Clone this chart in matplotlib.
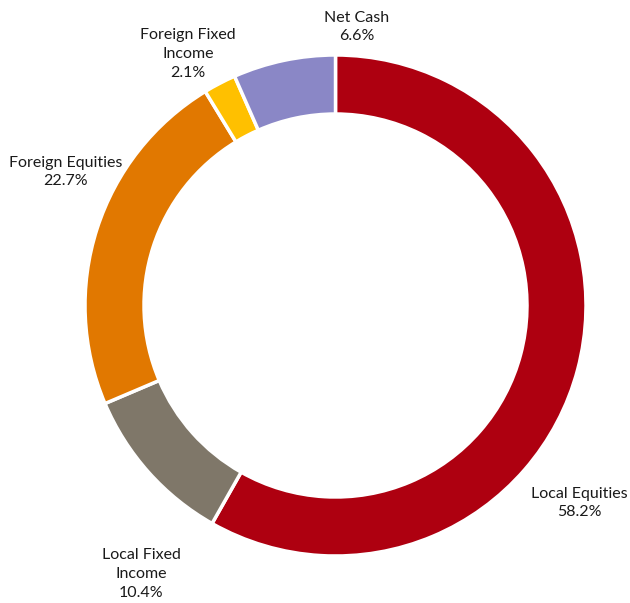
import matplotlib
matplotlib.use('Agg')
import matplotlib.pyplot as plt

# Asset allocation (clockwise from the top)
categories = ['Local Equities', 'Local Fixed\nIncome', 'Foreign Equities',
              'Foreign Fixed\nIncome', 'Net Cash']
values = [58.2, 10.4, 22.7, 2.1, 6.6]
colors = ['#AE0010', '#7F7769', '#E17800', '#FFC000', '#8A87C6']

# Label centres in figure pixels (width 630, height 603, y from top)
label_pos = [(579, 503), (141, 574), (66, 172), (188, 54), (357, 27)]

W, H = 630, 603
cx, cy, R = 335.5, 305.5, 250.5

plt.rcParams['font.family'] = ['Lato', 'DejaVu Sans']

fig = plt.figure(figsize=(W / 100, H / 100), dpi=100)
ax = fig.add_axes([0, 0, 1, 1])
ax.pie(values, colors=colors, startangle=90, counterclock=False, radius=1,
       wedgeprops=dict(width=59 / R, edgecolor='white', linewidth=2.5))
ax.set_xlim(-cx / R, (W - cx) / R)
ax.set_ylim(-(H - cy) / R, cy / R)
ax.set_aspect('auto')
ax.axis('off')

for name, val, (px, py) in zip(categories, values, label_pos):
    fig.text(px / W, 1 - py / H, '%s\n%.1f%%' % (name, val),
             ha='center', va='center', fontsize=11.5, color='#1a1a1a',
             linespacing=1.45)

fig.savefig('out.png', dpi=100)
